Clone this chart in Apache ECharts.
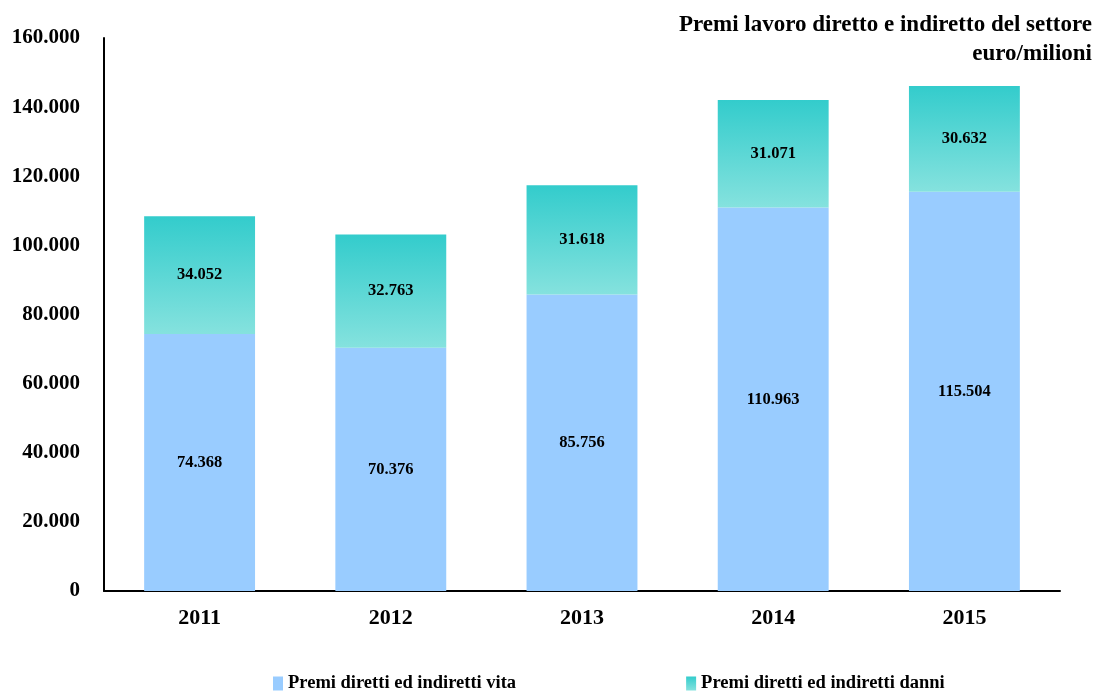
<!DOCTYPE html>
<html>
<head>
<meta charset="utf-8">
<script src="https://cdn.jsdelivr.net/npm/echarts@6/dist/echarts.min.js"></script>
<style>
  html, body { margin: 0; padding: 0; background: #fff; }
  #container { width: 1098px; height: 692px; }
</style>
</head>
<body>
<div id="container"></div>
<script>
var anni = ['2011', '2012', '2013', '2014', '2015'];
var premiVita = [74368, 70376, 85756, 110963, 115504];
var premiDanni = [34052, 32763, 31618, 31071, 30632];
var nomiSerie = ['Premi diretti ed indiretti vita', 'Premi diretti ed indiretti danni'];

// separatore migliaia all'italiana
function fmt(v) {
  return String(v).replace(/\B(?=(\d{3})+(?!\d))/g, '.');
}

var font = '"Liberation Serif", "Times New Roman", serif';
var gradDanni = new echarts.graphic.LinearGradient(0, 0, 0, 1, [
  { offset: 0, color: '#33cccc' },
  { offset: 1, color: '#85e2de' }
]);

var myChart = echarts.init(document.getElementById('container'));
var option = {
  animation: false,
  textStyle: { fontFamily: font },
  title: {
    text: 'Premi lavoro diretto e indiretto del settore\neuro/milioni',
    left: 1087,
    top: 6,
    textAlign: 'right',
    textStyle: {
      fontFamily: font, fontWeight: 'bold', fontSize: 23,
      color: '#000', lineHeight: 29
    }
  },
  legend: {
    top: 669,
    left: 268,
    itemGap: 170,
    itemWidth: 10,
    itemHeight: 14,
    textStyle: { fontFamily: font, fontWeight: 'bold', fontSize: 18.5, color: '#000' },
    data: [
      { name: nomiSerie[0], icon: 'rect' },
      { name: nomiSerie[1], icon: 'rect' }
    ]
  },
  grid: { left: 104, right: 38, top: 38, bottom: 101 },
  xAxis: {
    type: 'category',
    data: anni,
    axisLine: { lineStyle: { color: '#000', width: 2 } },
    axisTick: { show: false },
    axisLabel: {
      margin: 16, color: '#000', fontFamily: font, fontWeight: 'bold', fontSize: 22
    }
  },
  yAxis: {
    type: 'value',
    min: 0,
    max: 160000,
    interval: 20000,
    splitLine: { show: false },
    axisLine: { show: true, lineStyle: { color: '#000', width: 2 } },
    axisTick: { show: false },
    axisLabel: {
      margin: 24, color: '#000', fontFamily: font, fontWeight: 'bold', fontSize: 21,
      formatter: function (v) { return fmt(v); }
    }
  },
  series: [
    {
      name: nomiSerie[0],
      type: 'bar',
      stack: 'tot',
      barWidth: '58%',
      itemStyle: { color: '#99ccff' },
      label: {
        show: true, position: 'inside', color: '#000',
        fontFamily: font, fontWeight: 'bold', fontSize: 16.5,
        formatter: function (p) { return fmt(p.value); }
      },
      data: premiVita
    },
    {
      name: nomiSerie[1],
      type: 'bar',
      stack: 'tot',
      barWidth: '58%',
      itemStyle: { color: gradDanni },
      label: {
        show: true, position: 'inside', color: '#000',
        fontFamily: font, fontWeight: 'bold', fontSize: 16.5,
        formatter: function (p) { return fmt(p.value); }
      },
      data: premiDanni
    }
  ]
};
myChart.setOption(option);
</script>
</body>
</html>
